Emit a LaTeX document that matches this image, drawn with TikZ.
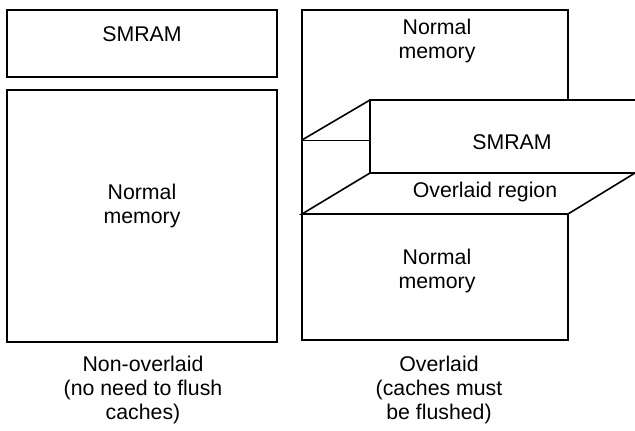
\documentclass[tikz,border=0pt]{standalone}
\usepackage{fontspec}
\setmainfont{Liberation Sans}
\begin{document}
\begin{tikzpicture}[x=1pt,y=-1pt,
  box/.style={draw, line width=1.6pt, inner sep=0pt},
  edge/.style={line width=1.6pt, line join=miter},
  thinline/.style={line width=0.9pt},
  lbl/.style={font=\fontsize{21.3}{23.8}\selectfont, align=center, inner sep=0pt}]
\useasboundingbox (0,0) rectangle (635,431);
% left column
\node[box, minimum width=270pt, minimum height=67pt] (smL) at (142,43.5) {};
\node[box, minimum width=270pt, minimum height=252pt] (nmL) at (142,216) {};
\node[lbl] (tsmL) at (142,34) {SMRAM};
\node[lbl] (tnmL) at (142,206) {Normal\\memory};
\node[lbl] (capL) at (143,390) {Non-overlaid\\(no need to flush\\caches)};
% right column coordinates
\coordinate (tl) at (302,10);
\coordinate (tr) at (568,10);
\coordinate (trb) at (568,100);
\coordinate (st) at (370,100);
\coordinate (str) at (635,100);
\coordinate (sm) at (370,140);
\coordinate (sb) at (370,173);
\coordinate (sbr) at (635,173);
\coordinate (lm) at (302,140);
\coordinate (pl) at (302,214);
\coordinate (pr) at (568,214);
\coordinate (bl) at (302,340);
\coordinate (br) at (568,340);
% outer frame of right column
\draw[edge] (trb) -- (tr) -- (tl) -- (bl) -- (br) -- (pr);
% SMRAM box
\draw[edge] (str) -- (st) -- (sb) -- (sbr);
% side of the slab
\draw[edge] (lm) -- (st);
\draw[thinline] (lm) -- (sm);
% overlaid region parallelogram
\draw[edge] (sbr) -- (pr) -- (pl) -- (sb);
% texts
\node[lbl] (tnmR) at (437,41) {Normal\\memory};
\node[lbl] (tsmR) at (512,142) {SMRAM};
\node[lbl] (tovR) at (485,192) {Overlaid region};
\node[lbl] (tnmR2) at (437,271) {Normal\\memory};
\node[lbl] (capR) at (439,390) {Overlaid\\(caches must\\be flushed)};
\end{tikzpicture}
\end{document}
